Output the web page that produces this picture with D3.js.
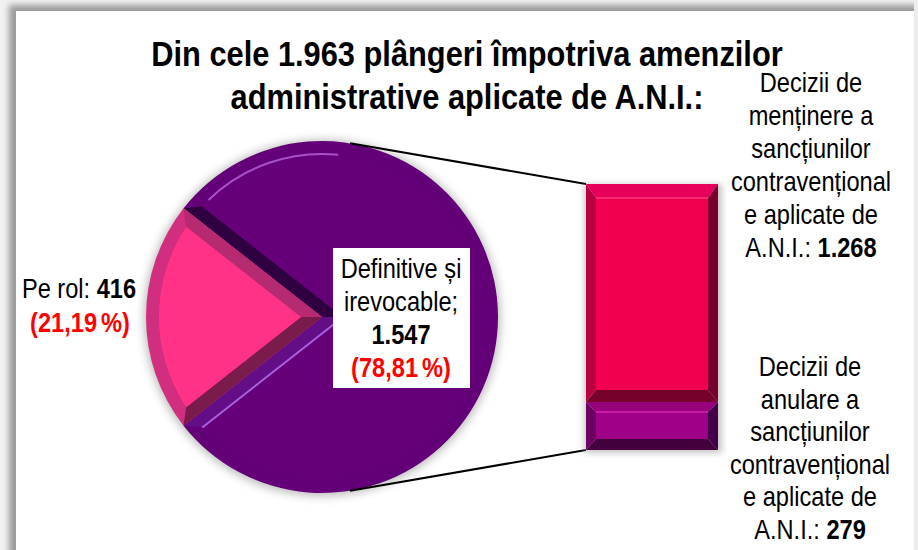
<!DOCTYPE html>
<html>
<head>
<meta charset="utf-8">
<script src="https://cdn.jsdelivr.net/npm/d3@7"></script>
<style>
  html, body { margin: 0; padding: 0; background: #fff; overflow: hidden; }
  text { font-family: "Liberation Sans", Arial, sans-serif; }
</style>
</head>
<body>
<div id="vis"></div>
<script>
const titleLines = ["Din cele 1.963 plângeri împotriva amenzilor", "administrative aplicate de A.N.I.:"];

const pieNames = ["Pe rol", "Definitive și irevocable"];
const pieValues = [416, 1547];
const barNames = ["Anulare", "Mentinere"];
const barValues = [279, 1268];

const pieColors = ["#ff3388", "#660078"];
const topLabelLines = ["Decizii de", "menținere a", "sancțiunilor", "contravențional", "e aplicate de"];
const lowLabelLines = ["Decizii de", "anulare a", "sancțiunilor", "contravențional", "e aplicate de"];

const W = 918, H = 550;
const svg = d3.select("#vis").append("svg").attr("width", W).attr("height", H);
const defs = svg.append("defs");

[["blur6", 5], ["blur3", 3], ["soft", 0.7]].forEach(b => {
  defs.append("filter").attr("id", b[0]).attr("x", "-20%").attr("y", "-20%").attr("width", "140%").attr("height", "140%")
    .append("feGaussianBlur").attr("stdDeviation", b[1]);
});

function grad(id, x1, y1, x2, y2, stops) {
  const g = defs.append("linearGradient").attr("id", id).attr("gradientUnits", "userSpaceOnUse")
    .attr("x1", x1).attr("y1", y1).attr("x2", x2).attr("y2", y2);
  stops.forEach(s => g.append("stop").attr("offset", s[0]).attr("stop-color", s[1]));
}

// FRAME
svg.append("rect").attr("x", 0).attr("y", 0).attr("width", W).attr("height", H).attr("fill", "#f2f2f2");
svg.append("rect").attr("x", 9).attr("y", 5).attr("width", W).attr("height", H + 20)
  .attr("fill", "#9a9a9a").attr("filter", "url(#blur3)");
svg.append("rect").attr("x", 16).attr("y", 11).attr("width", 898).attr("height", H)
  .attr("fill", "#fff");
svg.append("rect").attr("x", 914).attr("y", 0).attr("width", 4).attr("height", H).attr("fill", "#ececec");

// PIE
const cx = 322, cy = 317, r = 176, bevel = 13;
const pieStart = -Math.PI / 2 - (pieValues[0] / d3.sum(pieValues)) * Math.PI;
const pieGen = d3.pie().sort(null).startAngle(pieStart).endAngle(pieStart + 2 * Math.PI);
const arcs = pieGen(pieValues);
const pt = (a, rad) => [cx + rad * Math.sin(a), cy - rad * Math.cos(a)];

svg.append("circle").attr("cx", cx).attr("cy", cy + 1).attr("r", r + 2)
  .attr("fill", "#8c8c8c").attr("opacity", 0.6).attr("filter", "url(#blur6)");
const pieG = svg.append("g").attr("filter", "url(#soft)");

grad("rimPurple", cx - r * 0.5, cy - r, cx + r * 0.5, cy + r * 0.5, [[0, "#640078"], [0.35, "#560068"], [0.6, "#3f0052"], [1, "#340042"]]);
grad("rimPink", cx - r, cy - r * 0.6, cx - r, cy + r * 0.6, [[0, "#d12d7f"], [1, "#c52674"]]);

// one wedge with bevelled cut edges and rim
function bevelWedge(d, rimFill, startFill, endFill, topFill) {
  const half = (d.endAngle - d.startAngle) / 2;
  const mid = (d.startAngle + d.endAngle) / 2;
  const apex = pt(mid, bevel / Math.sin(half));
  const dAng = Math.asin(bevel / (r - bevel));
  const a0 = d.startAngle + dAng, a1 = d.endAngle - dAng;
  const arcPath = d3.arc().innerRadius(0).outerRadius(r);

  pieG.append("path").attr("transform", `translate(${cx},${cy})`)
    .attr("d", arcPath(d)).attr("fill", rimFill);
  pieG.append("path").attr("d", d3.line()([[cx, cy], pt(d.startAngle, r), pt(a0, r - bevel), apex])).attr("fill", startFill);
  pieG.append("path").attr("d", d3.line()([[cx, cy], pt(d.endAngle, r), pt(a1, r - bevel), apex])).attr("fill", endFill);

  const p = d3.path();
  p.moveTo(apex[0], apex[1]);
  p.lineTo(...pt(a0, r - bevel));
  p.arc(cx, cy, r - bevel, a0 - Math.PI / 2, a1 - Math.PI / 2);
  p.closePath();
  pieG.append("path").attr("d", p.toString()).attr("fill", topFill);
  return { a0, a1, apex };
}

const pinkArc = arcs[0], purpleArc = arcs[1];
const purple = bevelWedge(purpleArc, "url(#rimPurple)", "#2f0040", "#640a86", pieColors[1]);
const pink = bevelWedge(pinkArc, "url(#rimPink)", "#7a1a4c", "#b5296f", pieColors[0]);

// highlights on purple rim and on lower cut edge
const hl = d3.path();
hl.arc(cx, cy, r - bevel, -Math.PI / 2 - 0.77, -Math.PI / 2 + 0.1);
pieG.append("path").attr("d", hl.toString()).attr("fill", "none")
  .attr("stroke", "#a850c8").attr("stroke-width", 2);
pieG.append("line")
  .attr("x1", pt(purple.a1, r - bevel)[0]).attr("y1", pt(purple.a1, r - bevel)[1])
  .attr("x2", purple.apex[0]).attr("y2", purple.apex[1])
  .attr("stroke", "#a860dc").attr("stroke-width", 2);

// BAR
const barX = d3.scaleBand().domain(["bar"]).range([586, 718]);
const barY = d3.scaleLinear().domain([0, d3.sum(barValues)]).range([450, 184]);

// connector lines
const joinAngle = 0.16;
const conn = [
  [pt(joinAngle, r), [barX("bar"), barY(d3.sum(barValues))]],
  [pt(Math.PI - joinAngle, r), [barX("bar"), barY(0)]]
];
svg.selectAll(".conn").data(conn).enter().append("line").attr("class", "conn")
  .attr("x1", d => d[0][0]).attr("y1", d => d[0][1])
  .attr("x2", d => d[1][0]).attr("y2", d => d[1][1])
  .attr("stroke", "#000").attr("stroke-width", 2);

svg.append("rect").attr("x", barX("bar") - 2).attr("y", barY(d3.sum(barValues)))
  .attr("width", barX.bandwidth() + 6).attr("height", barY(0) - barY(d3.sum(barValues)) + 3)
  .attr("fill", "#999").attr("opacity", 0.55).attr("filter", "url(#blur3)");

const barStyles = [
  { top: "#97007c", hi: "#c81fa6", left: "#6a0062", right: "#420048", bottom: "#43003e", main: "#a00088", bt: 10, bb: 11 },
  { top: "#e6005a", hi: "#ff2c70", left: "#b80040", right: "#78002f", bottom: "#75002c", main: "#f0004f", bt: 14, bb: 12 }
];
const barG = svg.append("g").attr("filter", "url(#soft)");
let acc = 0;
barValues.forEach((v, i) => {
  const s = barStyles[i];
  const x0 = barX("bar"), x1 = x0 + barX.bandwidth();
  const y0 = barY(acc + v), y1 = barY(acc);
  acc += v;
  const b = 10;
  const ix0 = x0 + b, ix1 = x1 - b, iy0 = y0 + s.bt, iy1 = y1 - s.bb;
  const quad = (pts, fill) => barG.append("path").attr("d", d3.line()(pts) + "Z").attr("fill", fill);
  quad([[x0, y0], [x1, y0], [ix1, iy0], [ix0, iy0]], s.top);
  quad([[x0, y1], [x1, y1], [ix1, iy1], [ix0, iy1]], s.bottom);
  quad([[x0, y0], [ix0, iy0], [ix0, iy1], [x0, y1]], s.left);
  quad([[x1, y0], [ix1, iy0], [ix1, iy1], [x1, y1]], s.right);
  quad([[ix0, iy0], [ix1, iy0], [ix1, iy1], [ix0, iy1]], s.main);
  barG.append("line").attr("x1", ix0).attr("x2", ix1).attr("y1", iy0).attr("y2", iy0)
    .attr("stroke", s.hi).attr("stroke-width", 2);
});

// TITLE
titleLines.forEach((d, i) => {
  svg.append("text").attr("transform", `translate(467,${66 + i * 43}) scale(0.88,1)`)
    .attr("text-anchor", "middle").attr("font-size", 35).attr("font-weight", "bold")
    .attr("fill", "#000").text(d);
});

// LABELS
const roNum = v => d3.format(",")(v).replace(",", ".");
const pct = v => (v / d3.sum(pieValues) * 100).toFixed(2).replace(".", ",") + " %";

function label(x, y, runs) {
  const t = svg.append("text").attr("transform", `translate(${x},${y}) scale(0.875,1)`)
    .attr("text-anchor", "middle").attr("font-size", 27);
  runs.forEach(r => t.append("tspan").attr("font-weight", r.bold ? "bold" : "normal")
    .attr("word-spacing", r.red ? -3 : 0)
    .attr("fill", r.red ? "#ff0000" : "#000").text(r.text));
}

// box under the center label
svg.append("rect").attr("x", 333).attr("y", 248).attr("width", 137).attr("height", 140).attr("fill", "#fff");
label(401, 278, [{ text: "Definitive și" }]);
label(401, 311, [{ text: "irevocable;" }]);
label(401, 344, [{ text: roNum(pieValues[1]), bold: true }]);
label(401, 377, [{ text: "(" + pct(pieValues[1]) + ")", bold: true, red: true }]);

label(79, 298, [{ text: pieNames[0] + ": " }, { text: roNum(pieValues[0]), bold: true }]);
label(80, 332, [{ text: "(" + pct(pieValues[0]) + ")", bold: true, red: true }]);

topLabelLines.forEach((d, i) => label(811, 92 + i * 33, [{ text: d }]));
label(811, 257, [{ text: "A.N.I.: " }, { text: roNum(barValues[1]), bold: true }]);
lowLabelLines.forEach((d, i) => label(810, 376 + i * 32.6, [{ text: d }]));
label(810, 539, [{ text: "A.N.I.: " }, { text: roNum(barValues[0]), bold: true }]);
</script>
</body>
</html>
